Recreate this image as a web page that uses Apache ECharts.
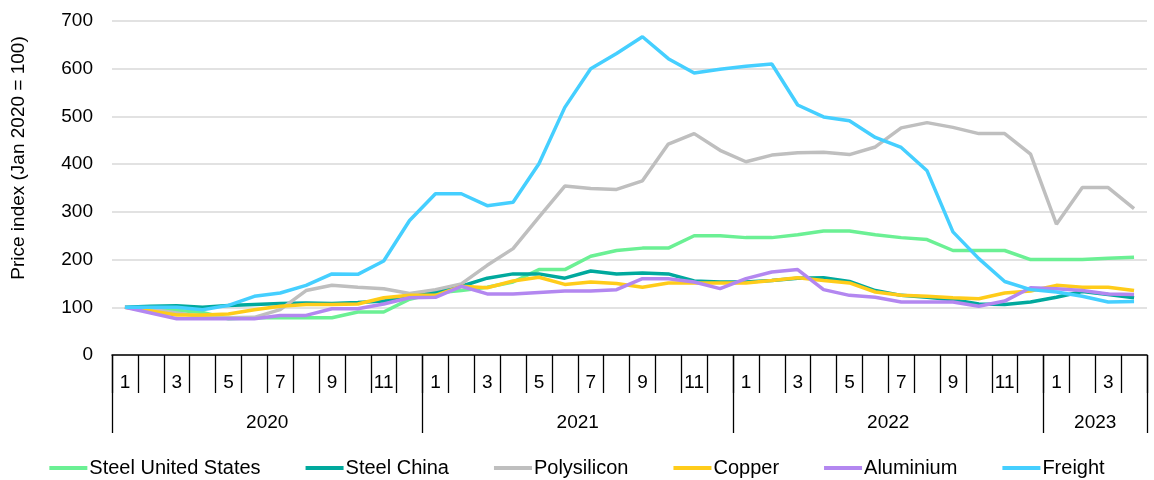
<!DOCTYPE html>
<html>
<head>
<meta charset="utf-8">
<script src="https://cdn.jsdelivr.net/npm/echarts@6/dist/echarts.min.js"></script>
<style>
html,body{margin:0;padding:0;background:#fff;}
#chart{width:1154px;height:480px;}
</style>
</head>
<body>
<div id="chart"></div>
<script>
// Months Jan 2020 - Apr 2023
const years = ['2020', '2021', '2022', '2023'];
const monthsPerYear = [12, 12, 12, 4];
const yTicks = [0, 100, 200, 300, 400, 500, 600, 700];

const steelUS = [100, 97, 94, 89, 76, 78, 78, 78, 78, 90, 90, 117,
  130, 135, 142, 153, 179, 179, 207, 219, 224, 224, 250, 250,
  246, 246, 252, 260, 260, 252, 246, 242, 219, 219, 219, 200,
  200, 200, 203, 205];
const steelChina = [100, 102, 103, 100, 104, 106, 108, 109, 108, 110, 113, 126,
  132, 144, 161, 170, 170, 161, 176, 170, 172, 170, 155, 153,
  153, 156, 161, 162, 154, 135, 125, 121, 116, 107, 106, 111,
  121, 133, 127, 120];
const polysilicon = [100, 96, 88, 80, 78, 79, 95, 135, 146, 142, 139, 129,
  137, 149, 188, 223, 289, 354, 349, 347, 365, 442, 464, 429,
  405, 419, 424, 425, 420, 436, 476, 487, 477, 464, 464, 421,
  274, 351, 351, 307];
const copper = [100, 92, 84, 84, 86, 95, 102, 106, 106, 107, 120, 125,
  125, 144, 141, 155, 163, 148, 153, 150, 142, 151, 151, 151,
  151, 156, 162, 156, 151, 132, 125, 123, 120, 118, 130, 134,
  146, 142, 142, 135];
const aluminium = [100, 88, 76, 76, 76, 76, 83, 83, 97, 97, 107, 120,
  121, 144, 128, 128, 131, 134, 134, 137, 160, 160, 153, 139,
  160, 174, 179, 137, 125, 121, 111, 111, 111, 102, 113, 141,
  139, 135, 128, 127];
const freight = [100, 100, 100, 95, 104, 123, 130, 146, 170, 169, 197, 282,
  338, 338, 313, 320, 401, 519, 600, 632, 667, 621, 591, 599,
  605, 610, 524, 499, 491, 456, 435, 386, 258, 202, 154, 137,
  132, 123, 111, 112];

const seriesNames = ['Steel United States', 'Steel China', 'Polysilicon', 'Copper', 'Aluminium', 'Freight'];
const seriesData = [steelUS, steelChina, polysilicon, copper, aluminium, freight];
const seriesColors = ['#6BF094', '#00A99D', '#BFBFBF', '#FFCC1A', '#B387F0', '#45CFFF'];

// month category labels
const monthCats = [];
years.forEach((y, yi) => { for (let m = 1; m <= monthsPerYear[yi]; m++) monthCats.push(y + '-' + m); });

// year axis: boundary points 0..N
const N = monthCats.length;
const yearCats = [];
const yearLabelIdx = {};
const yearTickIdx = {0: true};
let acc = 0;
years.forEach((y, yi) => {
  yearLabelIdx[acc + monthsPerYear[yi] / 2] = y;
  acc += monthsPerYear[yi];
  yearTickIdx[acc] = true;
});
for (let i = 0; i <= N; i++) yearCats.push(yearLabelIdx[i] || '');

const FONT = 'Liberation Sans, Arial, sans-serif';
const chart = echarts.init(document.getElementById('chart'));
chart.setOption({
  animation: false,
  backgroundColor: '#fff',
  grid: {left: 112, right: 7, top: 21, bottom: 125},
  legend: {
    data: seriesNames,
    top: 453,
    left: 'center',
    icon: 'rect',
    itemWidth: 38,
    itemHeight: 4,
    itemGap: 45,
    textStyle: {fontFamily: FONT, fontSize: 20, color: '#000', padding: [0, 0, 0, -3]}
  },
  xAxis: [
    {
      type: 'category',
      data: monthCats,
      position: 'bottom',
      boundaryGap: true,
      axisLine: {show: true, lineStyle: {color: '#000', width: 1.5}},
      axisTick: {show: true, interval: 0, length: 38, lineStyle: {color: '#000', width: 1.3}},
      axisLabel: {
        interval: 0,
        margin: 18,
        fontFamily: FONT, fontSize: 19, color: '#000',
        formatter: v => { const m = +v.split('-')[1]; return m % 2 === 1 ? String(m) : ''; }
      },
      splitLine: {show: false}
    },
    {
      type: 'category',
      data: yearCats,
      position: 'bottom',
      offset: 0,
      boundaryGap: false,
      axisLine: {show: false},
      axisTick: {show: true, length: 78, interval: (i) => !!yearTickIdx[i], lineStyle: {color: '#000', width: 1.3}},
      axisLabel: {
        interval: (i, v) => v !== '',
        margin: 58,
        fontFamily: FONT, fontSize: 19, color: '#000'
      },
      splitLine: {show: false}
    }
  ],
  yAxis: {
    type: 'value',
    min: yTicks[0],
    max: yTicks[yTicks.length - 1],
    interval: 100,
    name: 'Price index (Jan 2020 = 100)',
    nameLocation: 'middle',
    nameGap: 84,
    nameTextStyle: {fontFamily: FONT, fontSize: 19, color: '#000', padding: [0, 0, 0, 60]},
    axisLine: {show: false},
    axisTick: {show: false},
    axisLabel: {margin: 19, fontFamily: FONT, fontSize: 19, color: '#000'},
    splitLine: {lineStyle: {color: '#D9D9D9', width: 1.5}}
  },
  series: seriesNames.map((n, i) => ({
    name: n,
    type: 'line',
    xAxisIndex: 0,
    data: seriesData[i],
    symbol: 'none',
    color: seriesColors[i],
    lineStyle: {width: 3.5, color: seriesColors[i]},
    z: 2 + i
  }))
});
</script>
</body>
</html>
